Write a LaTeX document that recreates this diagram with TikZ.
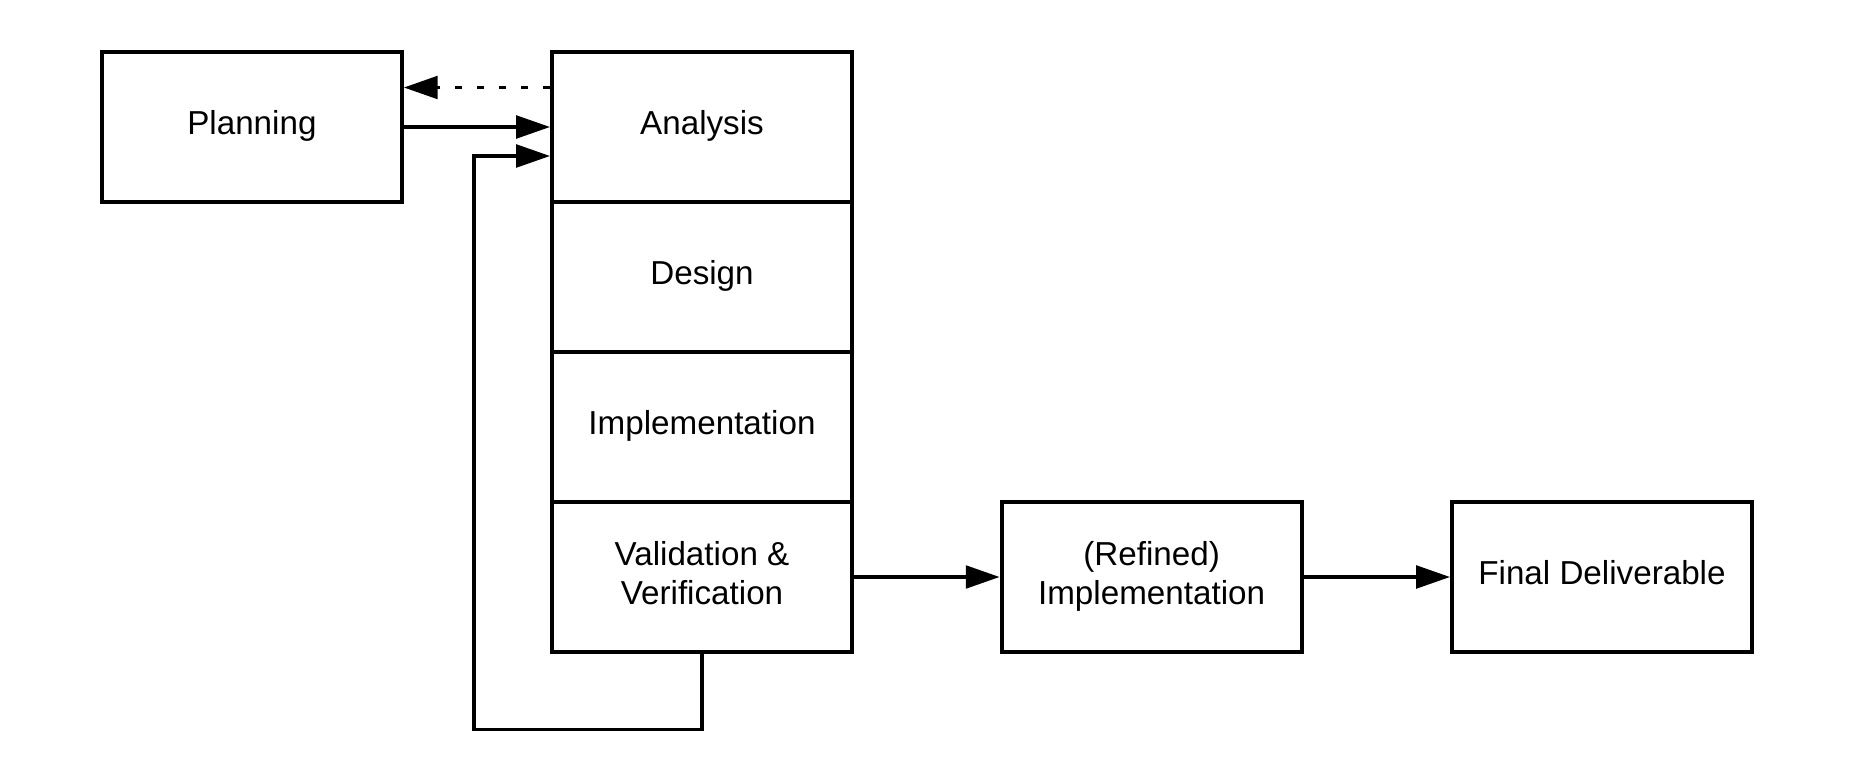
\documentclass[tikz,border=0pt]{standalone}
\usepackage{fontspec}
\setmainfont{Liberation Sans}
\usetikzlibrary{arrows.meta}

\newcommand{\boxtext}[1]{\begin{tabular}{@{}c@{}}#1\end{tabular}}

\tikzset{
  box/.style={draw, line width=2.2pt, minimum width=6cm, minimum height=3cm,
    inner sep=0pt, font=\fontsize{18.9}{22.1}\selectfont},
  flow/.style={line width=2.2pt, -{Triangle[length=19.3pt, width=12.8pt]}},
  back/.style={flow, dash pattern=on 4pt off 8.5pt}
}

\begin{document}
\begin{tikzpicture}[x=0.02cm, y=-0.02cm]
            \useasboundingbox (0,0) rectangle (1854,781);
            % boxes
            \node[box] (plan) at (251.9,127) {\boxtext{Planning}};
            \node[box] (ana) at (702,127) {\boxtext{Analysis}};
            \node[box] (des) at (702,277) {\boxtext{Design}};
            \node[box] (impl) at (702,427) {\boxtext{Implementation}};
            \node[box] (vv) at (702,577) {\boxtext{Validation \&\\Verification}};
            \node[box] (refined) at (1151.6,577) {\boxtext{(Refined)\\Implementation}};
            \node[box] (final) at (1602,577) {\boxtext{Final Deliverable}};
            \coordinate (loop) at (474,729.5);
            % arrows
            \draw[flow] (plan) -- (ana);
            \draw[back] ([yshift=0.79cm]ana.west) -- ([yshift=0.79cm]plan.east);
            \draw[flow] (vv.south) |- (loop) |- ([yshift=-0.58cm]ana.west);
            \draw[flow] (vv) -- (refined);
            \draw[flow] (refined) -- (final);
        \end{tikzpicture}
\end{document}
